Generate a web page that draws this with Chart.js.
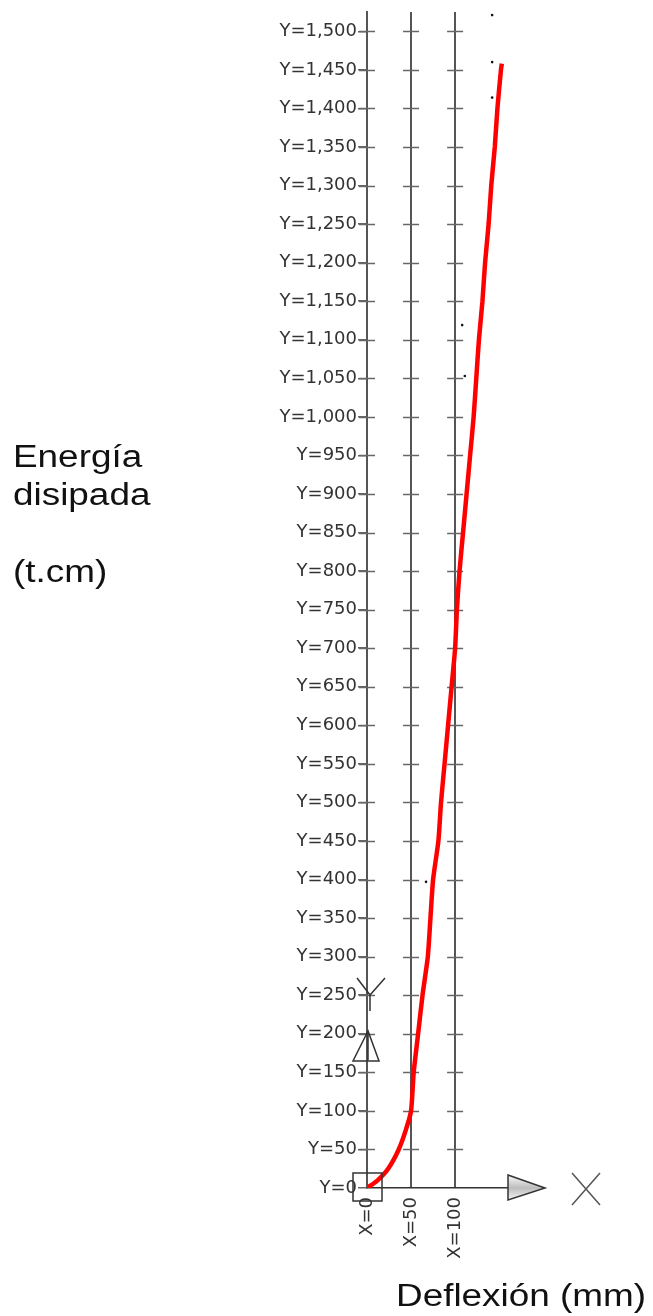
<!DOCTYPE html>
<html>
<head>
<meta charset="utf-8">
<script src="https://cdn.jsdelivr.net/npm/chart.js@4.4.1/dist/chart.umd.min.js"></script>
<style>
  body { margin: 0; background: #fff; }
  canvas { display: block; }
</style>
</head>
<body>
<canvas id="energiaChart" width="653" height="1316"></canvas>
<script>
// Deflexión (mm) vs Energía disipada (t.cm)
const deflexion = [0, 12, 24, 36, 44, 50, 53, 58, 63, 69, 72, 75, 81, 84, 88, 92, 96, 100, 102, 105, 109, 113, 117, 121, 124, 127, 131, 134, 138, 141, 145, 148, 152, 153];
const energia   = [0, 10, 25, 50, 75, 100, 150, 200, 250, 300, 350, 400, 450, 500, 550, 600, 650, 700, 750, 800, 850, 900, 950, 1000, 1050, 1100, 1150, 1200, 1250, 1300, 1350, 1400, 1450, 1458];

// puntos sueltos (negros) que aparecen en el dibujo
const puntosX = [142, 142, 142, 108, 111, 67];
const puntosY = [1521, 1460, 1414, 1119, 1053, 397];

const xTicks = [0, 50, 100];
const yTicks = [0, 50, 100, 150, 200, 250, 300, 350, 400, 450, 500, 550, 600, 650, 700, 750,
                800, 850, 900, 950, 1000, 1050, 1100, 1150, 1200, 1250, 1300, 1350, 1400, 1450, 1500];

const tituloY = ['Energía', 'disipada', '', '(t.cm)'];
const tituloX = 'Deflexión (mm)';

// cruces de la retícula, icono UCS y títulos
const decoraciones = {
    id: 'decoraciones',
    beforeDatasetsDraw(chart) {
        const { ctx, scales: { x, y } } = chart;
        ctx.save();
        ctx.strokeStyle = '#666';
        ctx.lineWidth = 1.5;
        xTicks.forEach(xv => {
            const px = x.getPixelForValue(xv);
            yTicks.forEach(yv => {
                if (yv === 0) return;
                const py = Math.round(y.getPixelForValue(yv)) + 0.5;
                ctx.beginPath();
                ctx.moveTo(px - 8, py);
                ctx.lineTo(px + 8, py);
                ctx.stroke();
            });
        });
        ctx.restore();
    },
    afterDraw(chart) {
        const { ctx, scales: { x, y }, chartArea } = chart;
        const ox = x.getPixelForValue(0);
        const oy = y.getPixelForValue(0);
        ctx.save();
        ctx.strokeStyle = '#333';
        ctx.lineWidth = 1.5;

        // cuadro en el origen
        ctx.strokeRect(ox - 14, oy - 15, 29, 28);

        // triángulo hacia arriba
        ctx.beginPath();
        ctx.moveTo(ox + 1, oy - 157);
        ctx.lineTo(ox - 14, oy - 127);
        ctx.lineTo(ox + 12, oy - 127);
        ctx.closePath();
        ctx.stroke();
        ctx.beginPath();
        ctx.moveTo(ox + 1, oy - 155);
        ctx.lineTo(ox + 1, oy - 128);
        ctx.stroke();

        // letra Y del icono
        ctx.beginPath();
        ctx.moveTo(ox - 10, oy - 210);
        ctx.lineTo(ox + 3, oy - 193);
        ctx.lineTo(ox + 18, oy - 210);
        ctx.moveTo(ox + 3, oy - 193);
        ctx.lineTo(ox + 3, oy - 177);
        ctx.stroke();

        // flecha del eje X
        const ax = chartArea.right;
        const grad = ctx.createLinearGradient(0, oy - 12, 0, oy + 12);
        grad.addColorStop(0, '#f4f4f4');
        grad.addColorStop(0.5, '#bdbdbd');
        grad.addColorStop(1, '#f4f4f4');
        ctx.fillStyle = grad;
        ctx.beginPath();
        ctx.moveTo(ax, oy - 13);
        ctx.lineTo(ax + 37, oy);
        ctx.lineTo(ax, oy + 12);
        ctx.closePath();
        ctx.fill();
        ctx.stroke();

        // letra X del icono
        ctx.strokeStyle = '#555';
        ctx.beginPath();
        ctx.moveTo(ax + 64, oy - 15);
        ctx.lineTo(ax + 92, oy + 17);
        ctx.moveTo(ax + 92, oy - 15);
        ctx.lineTo(ax + 64, oy + 17);
        ctx.stroke();

        // títulos de los ejes
        ctx.fillStyle = '#111';
        ctx.font = '31px "Liberation Sans", Arial, sans-serif';
        ctx.textBaseline = 'alphabetic';
        const stretch = 1.19;
        const lineas = [467, 505, 543, 582];
        tituloY.forEach((t, i) => {
            if (!t) return;
            ctx.save();
            ctx.translate(13, lineas[i]);
            ctx.scale(stretch, 1);
            ctx.fillText(t, 0, 0);
            ctx.restore();
        });
        ctx.save();
        ctx.translate(396, 1306);
        ctx.scale(stretch, 1);
        ctx.fillText(tituloX, 0, 0);
        ctx.restore();

        ctx.restore();
    }
};

const ctx = document.getElementById('energiaChart').getContext('2d');

new Chart(ctx, {
    type: 'scatter',
    data: {
        datasets: [
            {
                label: 'Energía disipada',
                data: deflexion.map((d, i) => ({ x: d, y: energia[i] })),
                showLine: true,
                borderColor: '#ff0000',
                backgroundColor: '#ff0000',
                borderWidth: 4.5,
                pointRadius: 0,
                tension: 0.2
            },
            {
                label: 'puntos',
                data: puntosX.map((d, i) => ({ x: d, y: puntosY[i] })),
                showLine: false,
                pointRadius: 1.3,
                pointBackgroundColor: '#111',
                pointBorderWidth: 0
            }
        ]
    },
    options: {
        responsive: false,
        animation: false,
        layout: {
            padding: { top: 12, right: 145, left: 0, bottom: 0 }
        },
        plugins: {
            legend: { display: false },
            tooltip: { enabled: false }
        },
        scales: {
            x: {
                type: 'linear',
                min: 0,
                max: 160,
                afterBuildTicks: s => { s.ticks = xTicks.map(v => ({ value: v })); },
                afterFit: s => { s.height = 128; },
                grid: {
                    color: '#555',
                    lineWidth: 2,
                    drawTicks: false
                },
                border: { display: true, color: '#333', width: 1.5 },
                ticks: {
                    minRotation: 90,
                    maxRotation: 90,
                    padding: 9,
                    color: '#333',
                    font: { family: '"DejaVu Sans"', size: 18 },
                    callback: v => 'X=' + v
                }
            },
            y: {
                type: 'linear',
                min: 0,
                max: 1525,
                afterBuildTicks: s => { s.ticks = yTicks.map(v => ({ value: v })); },
                afterFit: s => { s.width = 367; },
                grid: {
                    drawOnChartArea: false,
                    drawTicks: true,
                    tickLength: 9,
                    color: '#666',
                    lineWidth: 1.5
                },
                border: { display: true, color: '#555', width: 2 },
                ticks: {
                    padding: 1,
                    color: '#333',
                    font: { family: '"DejaVu Sans"', size: 18 },
                    callback: v => 'Y=' + v.toLocaleString('en-US')
                }
            }
        }
    },
    plugins: [decoraciones]
});
</script>
</body>
</html>
